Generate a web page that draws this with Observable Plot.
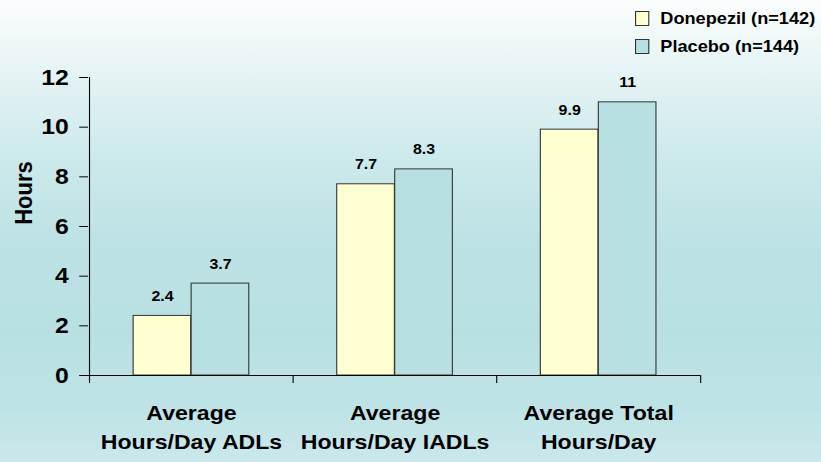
<!DOCTYPE html>
<html><head><meta charset="utf-8">
<script src="https://cdn.jsdelivr.net/npm/d3@7"></script>
<script src="https://cdn.jsdelivr.net/npm/@observablehq/plot@0.6"></script>
<style>
body{margin:0;}
#wrap{position:relative;width:821px;height:462px;overflow:hidden;
  background:linear-gradient(to bottom,#fbfdfd 0%,#e2f2f3 18%,#cbe9eb 35%,#bde2e5 52%,#b8e0e3 72%,#bee3e6 88%,#cae8eb 100%);
  font-family:"Liberation Sans",Arial,sans-serif;font-weight:bold;color:#000;}
#inner{position:absolute;left:0;top:0;width:746px;height:462px;transform-origin:0 0;}
#chart{position:absolute;left:0;top:0;}
#legend{position:absolute;left:577px;top:4px;font-size:16.5px;}
.item{display:flex;align-items:center;height:28px;white-space:nowrap;}
.sw{width:13px;height:15px;border:1px solid #333;margin-right:10px;box-sizing:border-box;}
#ylab{position:absolute;left:21.5px;top:193px;transform:translate(-50%,-50%) rotate(-90deg);font-size:22px;white-space:nowrap;}
</style></head>
<body><div id="wrap"><div id="inner"><div id="chart"></div><div id="legend"></div><div id="ylab">Hours</div></div></div>
<script>
const categories = ["Average\nHours/Day ADLs", "Average\nHours/Day IADLs", "Average Total\nHours/Day"];
const seriesNames = ["Donepezil (n=142)", "Placebo (n=144)"];
const donepezil = [2.4, 7.7, 9.9];
const placebo = [3.7, 8.3, 11];
const yTicks = [0, 2, 4, 6, 8, 10, 12];
const seriesColors = ["#ffffd2", "#b8e0e3"];

const rowsD = categories.map((c, i) => ({cat: c, series: seriesNames[0], value: donepezil[i]}));
const rowsP = categories.map((c, i) => ({cat: c, series: seriesNames[1], value: placebo[i]}));

// The reference is horizontally stretched; draw at a narrower width and stretch.
const S = 821 / 746;
document.getElementById("inner").style.transform = `scaleX(${S})`;

const W = 746, H = 462, mL = 80, mR = 110, mT = 77, mB = 87;
const bw = (W - mL - mR) / categories.length;
const barW = 58 / S;
const outer = bw / 2 - barW;

const chart = Plot.plot({
  width: W, height: H,
  marginLeft: mL, marginRight: mR, marginTop: mT, marginBottom: mB,
  style: {background: "transparent", fontFamily: "Liberation Sans, Arial, sans-serif", fontWeight: "bold", color: "#000", overflow: "visible"},
  x: {domain: categories, padding: 0},
  y: {domain: [0, 12]},
  color: {domain: seriesNames, range: seriesColors},
  marks: [
    Plot.barY(rowsD, {x: "cat", y: "value", fill: "series", stroke: "#333", strokeWidth: 1, insetLeft: outer, insetRight: bw / 2}),
    Plot.barY(rowsP, {x: "cat", y: "value", fill: "series", stroke: "#333", strokeWidth: 1, insetLeft: bw / 2, insetRight: outer}),
    Plot.text(rowsD, {x: "cat", y: "value", text: d => String(d.value), dx: -barW / 2, dy: -15, lineAnchor: "bottom", fontSize: 14.5, fontWeight: "bold"}),
    Plot.text(rowsP, {x: "cat", y: "value", text: d => String(d.value), dx: barW / 2, dy: -15, lineAnchor: "bottom", fontSize: 14.5, fontWeight: "bold"}),
    Plot.axisY({ticks: yTicks, tickSize: 8, tickPadding: 10, fontSize: 22.5, label: null}),
    Plot.axisX({tickSize: 0, tickPadding: 24, fontSize: 21, lineHeight: 1.38, label: null}),
    Plot.ruleY([0], {stroke: "#000"}),
    Plot.ruleX([categories[0]], {x: d => d, dx: -bw / 2, insetBottom: -8, stroke: "#000"}),
    Plot.ruleX(categories.slice(1), {x: d => d, dx: -bw / 2, insetTop: H - mT - mB, insetBottom: -8, stroke: "#000"}),
    Plot.ruleX([categories[categories.length - 1]], {x: d => d, dx: bw / 2, insetTop: H - mT - mB, insetBottom: -8, stroke: "#000"})
  ]
});
document.getElementById("chart").appendChild(chart);

const legend = document.getElementById("legend");
seriesNames.forEach((name, i) => {
  const item = document.createElement("div");
  item.className = "item";
  const sw = document.createElement("span");
  sw.className = "sw";
  sw.style.background = seriesColors[i];
  const t = document.createElement("span");
  t.textContent = name;
  item.appendChild(sw); item.appendChild(t);
  legend.appendChild(item);
});
</script>
</body></html>
